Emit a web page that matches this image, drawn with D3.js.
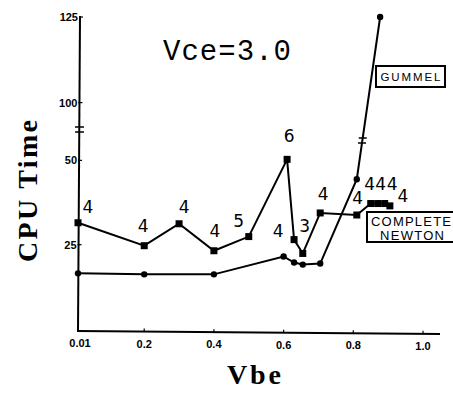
<!DOCTYPE html>
<html>
<head>
<meta charset="utf-8">
<script src="https://cdn.jsdelivr.net/npm/d3@7"></script>
<style>
  body { margin: 0; background: #fff; }
  svg { display: block; }
  .line { fill: none; stroke: #000; stroke-width: 2; }
  .lbl { font-family: "DejaVu Sans", sans-serif; font-size: 17px; fill: #000; }
  .tick-lbl { font-family: "Liberation Sans", sans-serif; font-weight: bold; font-size: 11px; fill: #000; }
</style>
</head>
<body>
<div id="chart"></div>
<script>
// Complete Newton series (with iteration counts)
var newtonVbe = [0.01, 0.2, 0.3, 0.4, 0.5, 0.61, 0.63, 0.655, 0.705, 0.81, 0.85, 0.87, 0.89, 0.905];
var newtonCpu = [31.5, 24.7, 31.2, 23.2, 27.4, 50.3, 26.5, 22.4, 34.4, 33.8, 37.2, 37.2, 37.2, 36.5];
var newtonIter = ["4", "4", "4", "4", "5", "6", "4", "3", "4", "4", "4", "4", "4", "4"];

// Gummel series
var gummelVbe = [0.01, 0.2, 0.4, 0.6, 0.63, 0.655, 0.705, 0.81, 0.877];
var gummelCpu = [16.5, 16.2, 16.2, 21.5, 19.7, 19.1, 19.4, 44.4, 125];

// axis ticks
var xTicks = [0.01, 0.2, 0.4, 0.6, 0.8, 1.0];
var xTickLabels = ["0.01", "0.2", "0.4", "0.6", "0.8", "1.0"];
var yTicks = [25, 50, 100, 125];

// label placement nudges (layout only) [dx, dy] from the point
var labelNudge = [[10, -10], [-1, -14], [5, -11], [1, -14], [-10, -10], [2, -17],
                  [-16, -3], [2, -21], [3, -13], [1, -11], [-1, -14], [3, -14], [7.5, -14], [13, -4]];

var width = 453, height = 394;

var svg = d3.select("#chart").append("svg")
    .attr("width", width)
    .attr("height", height);

// x scale
var x = d3.scaleLinear()
    .domain([0.01, 1.0])
    .range([78, 423]);

// broken y scale: 0..59 below the break, 92..125 above
var y = d3.scaleLinear()
    .domain([0, 59, 92, 125])
    .range([329, 130, 130, 17]);

// axes
svg.append("line")
    .attr("x1", 78).attr("y1", 331)
    .attr("x2", 80).attr("y2", 16)
    .attr("stroke", "#000").attr("stroke-width", 2);

svg.append("line")
    .attr("x1", 77).attr("y1", 331)
    .attr("x2", 440).attr("y2", 334)
    .attr("stroke", "#000").attr("stroke-width", 2);

// x tick marks + labels
svg.selectAll(".xtick")
    .data(xTicks)
  .enter().append("line")
    .attr("class", "xtick")
    .attr("x1", function(d) { return x(d); })
    .attr("x2", function(d) { return x(d); })
    .attr("y1", function(d) { return 331 + (x(d) - 77) / 363 * 3; })
    .attr("y2", function(d) { return 328 + (x(d) - 77) / 363 * 3; })
    .attr("stroke", "#000").attr("stroke-width", 1.2);

svg.selectAll(".xlab")
    .data(xTicks)
  .enter().append("text")
    .attr("class", "tick-lbl")
    .attr("text-anchor", "middle")
    .attr("x", function(d) { return x(d) + (d == 0.01 ? 2 : 0); })
    .attr("y", function(d) { return 347 + (x(d) - 77) / 363 * 3; })
    .text(function(d, i) { return xTickLabels[i]; });

// y tick marks + labels
svg.selectAll(".ytick")
    .data(yTicks)
  .enter().append("line")
    .attr("x1", function(d) { return 77 + (331 - y(d)) / 315 * 2; })
    .attr("x2", function(d) { return 81 + (331 - y(d)) / 315 * 2; })
    .attr("y1", function(d) { return y(d); })
    .attr("y2", function(d) { return y(d); })
    .attr("stroke", "#000").attr("stroke-width", 1.2);

svg.selectAll(".ylab")
    .data(yTicks)
  .enter().append("text")
    .attr("class", "tick-lbl")
    .attr("text-anchor", "end")
    .attr("x", function(d) { return 76 + (331 - y(d)) / 315 * 2; })
    .attr("y", function(d) { return y(d) + 4; })
    .text(function(d) { return d; });

// axis break marks
[127, 132].forEach(function(yy) {
  svg.append("line")
    .attr("x1", 75).attr("x2", 84)
    .attr("y1", yy).attr("y2", yy)
    .attr("stroke", "#000").attr("stroke-width", 1.5);
});

// data points as objects
var newton = newtonVbe.map(function(v, i) { return {x: v, y: newtonCpu[i], n: newtonIter[i]}; });
var gummel = gummelVbe.map(function(v, i) { return {x: v, y: gummelCpu[i]}; });

var line = d3.line()
    .x(function(d) { return x(d.x); })
    .y(function(d) { return y(d.y); });

svg.append("path").datum(gummel).attr("class", "line").attr("d", line);
svg.append("path").datum(newton).attr("class", "line").attr("d", line);

// break marks on the steep gummel segment
var gA = gummel[gummel.length - 2], gB = gummel[gummel.length - 1];
[138, 143].forEach(function(yy) {
  var t = (y(gA.y) - yy) / (y(gA.y) - y(gB.y));
  var xx = x(gA.x) + t * (x(gB.x) - x(gA.x));
  svg.append("line")
    .attr("x1", xx - 4).attr("x2", xx + 4)
    .attr("y1", yy).attr("y2", yy)
    .attr("stroke", "#000").attr("stroke-width", 1.5);
});

svg.selectAll(".gdot")
    .data(gummel)
  .enter().append("circle")
    .attr("cx", function(d) { return x(d.x); })
    .attr("cy", function(d) { return y(d.y); })
    .attr("r", 3.2);

svg.selectAll(".ndot")
    .data(newton)
  .enter().append("rect")
    .attr("x", function(d) { return x(d.x) - 3.5; })
    .attr("y", function(d) { return y(d.y) - 3.5; })
    .attr("width", 7).attr("height", 7);

// iteration count labels
svg.selectAll(".nlab")
    .data(newton)
  .enter().append("text")
    .attr("class", "lbl")
    .attr("text-anchor", "middle")
    .attr("x", function(d, i) { return x(d.x) + labelNudge[i][0]; })
    .attr("y", function(d, i) { return y(d.y) + labelNudge[i][1]; })
    .text(function(d) { return d.n; });

// legend boxes
svg.append("rect")
    .attr("x", 376).attr("y", 66).attr("width", 69).attr("height", 21)
    .attr("fill", "none").attr("stroke", "#000").attr("stroke-width", 2);
svg.append("text")
    .attr("x", 410.5).attr("y", 81)
    .attr("text-anchor", "middle")
    .attr("font-family", "Liberation Sans, sans-serif")
    .attr("font-size", 11.5)
    .attr("textLength", 60)
    .text("GUMMEL");

svg.append("path")
    .attr("d", "M455,212 H367 V242 H455")
    .attr("fill", "none").attr("stroke", "#000").attr("stroke-width", 2);
svg.append("text")
    .attr("x", 411).attr("y", 226)
    .attr("text-anchor", "middle")
    .attr("font-family", "Liberation Sans, sans-serif")
    .attr("font-size", 13)
    .attr("textLength", 80)
    .text("COMPLETE");
svg.append("text")
    .attr("x", 412).attr("y", 240)
    .attr("text-anchor", "middle")
    .attr("font-family", "Liberation Sans, sans-serif")
    .attr("font-size", 13)
    .attr("textLength", 64)
    .text("NEWTON");

// title
svg.append("text")
    .attr("x", 163).attr("y", 60)
    .attr("font-family", "Liberation Mono, monospace")
    .attr("font-size", 29)
    .attr("textLength", 128)
    .text("Vce=3.0");

// axis titles
svg.append("text")
    .attr("transform", "translate(37,262) rotate(-90)")
    .attr("font-family", "Liberation Serif, serif")
    .attr("font-weight", "bold")
    .attr("font-size", 28)
    .attr("textLength", 142)
    .text("CPU Time");

svg.append("text")
    .attr("x", 227).attr("y", 384)
    .attr("font-family", "Liberation Serif, serif")
    .attr("font-weight", "bold")
    .attr("font-size", 28)
    .attr("textLength", 54)
    .text("Vbe");
</script>
</body>
</html>
